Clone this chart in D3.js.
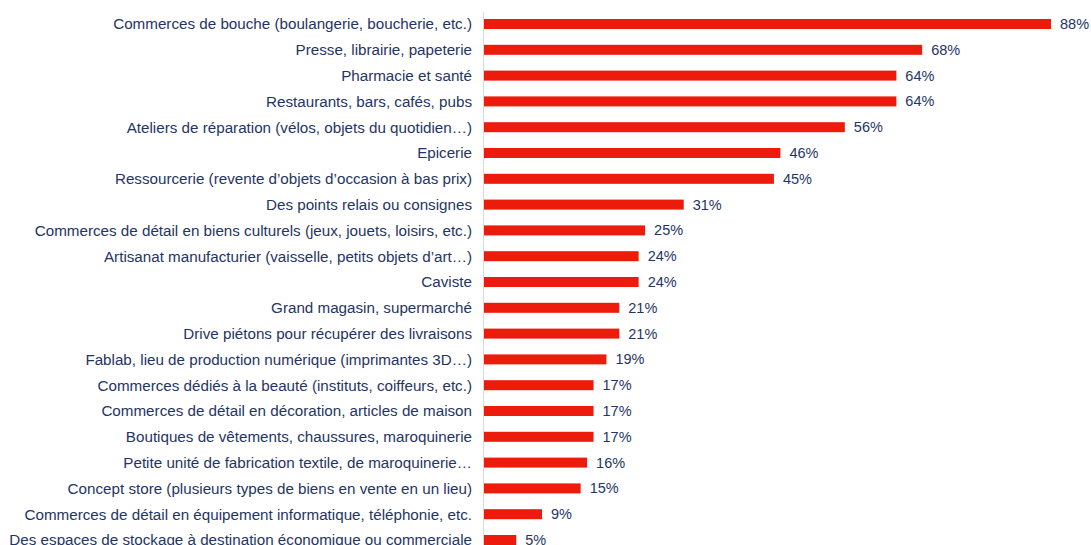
<!DOCTYPE html>
<html>
<head>
<meta charset="utf-8">
<script src="https://cdn.jsdelivr.net/npm/d3@7"></script>
<style>
  html, body { margin: 0; padding: 0; background: #ffffff; }
  svg { display: block; }
</style>
</head>
<body>
<svg id="chart" width="1091" height="545"></svg>
<script>
// Categories, top to bottom
const categories = [
  "Commerces de bouche (boulangerie, boucherie, etc.)",
  "Presse, librairie, papeterie",
  "Pharmacie et santé",
  "Restaurants, bars, cafés, pubs",
  "Ateliers de réparation (vélos, objets du quotidien…)",
  "Epicerie",
  "Ressourcerie (revente d’objets d’occasion à bas prix)",
  "Des points relais ou consignes",
  "Commerces de détail en biens culturels (jeux, jouets, loisirs, etc.)",
  "Artisanat manufacturier (vaisselle, petits objets d’art…)",
  "Caviste",
  "Grand magasin, supermarché",
  "Drive piétons pour récupérer des livraisons",
  "Fablab, lieu de production numérique (imprimantes 3D…)",
  "Commerces dédiés à la beauté (instituts, coiffeurs, etc.)",
  "Commerces de détail en décoration, articles de maison",
  "Boutiques de vêtements, chaussures, maroquinerie",
  "Petite unité de fabrication textile, de maroquinerie…",
  "Concept store (plusieurs types de biens en vente en un lieu)",
  "Commerces de détail en équipement informatique, téléphonie, etc.",
  "Des espaces de stockage à destination économique ou commerciale"
];

// Share of respondents (%)
const values = [88, 68, 64, 64, 56, 46, 45, 31, 25, 24, 24, 21, 21, 19, 17, 17, 17, 16, 15, 9, 5];

const svg = d3.select("#chart");
const axisX = 484;
const rowStep = 25.8;
const firstRow = 24;

const x = d3.scaleLinear().domain([0, 88]).range([axisX, 1051]);
const y = d3.scaleBand()
  .domain(categories)
  .range([firstRow - rowStep / 2, firstRow - rowStep / 2 + rowStep * categories.length])
  .paddingInner(0.6)
  .paddingOuter(0.3);

const navy = "#1f3564";
const red = "#ec1b0c";
const font = "'Liberation Sans', Arial, sans-serif";

const data = categories.map((c, i) => ({ cat: c, val: values[i] }));

// bars
svg.append("g").selectAll("rect")
  .data(data)
  .join("rect")
  .attr("x", x(0))
  .attr("y", d => y(d.cat) + y.bandwidth() / 2 - 5)
  .attr("width", d => x(d.val) - x(0))
  .attr("height", 10)
  .attr("fill", red);

// category axis line
svg.append("line")
  .attr("x1", axisX - 0.5).attr("x2", axisX - 0.5)
  .attr("y1", 12).attr("y2", 545)
  .attr("stroke", "#d9d9d9").attr("stroke-width", 1);

// category labels
svg.append("g").selectAll("text")
  .data(data)
  .join("text")
  .attr("x", 472)
  .attr("y", d => y(d.cat) + y.bandwidth() / 2)
  .attr("dy", "0.35em")
  .attr("text-anchor", "end")
  .attr("font-family", font)
  .attr("font-size", 15.2)
  .attr("fill", navy)
  .text(d => d.cat);

// value labels
svg.append("g").selectAll("text")
  .data(data)
  .join("text")
  .attr("x", d => x(d.val) + 9)
  .attr("y", d => y(d.cat) + y.bandwidth() / 2)
  .attr("dy", "0.35em")
  .attr("font-family", font)
  .attr("font-size", 14.5)
  .attr("fill", navy)
  .text(d => d.val + "%");
</script>
</body>
</html>
